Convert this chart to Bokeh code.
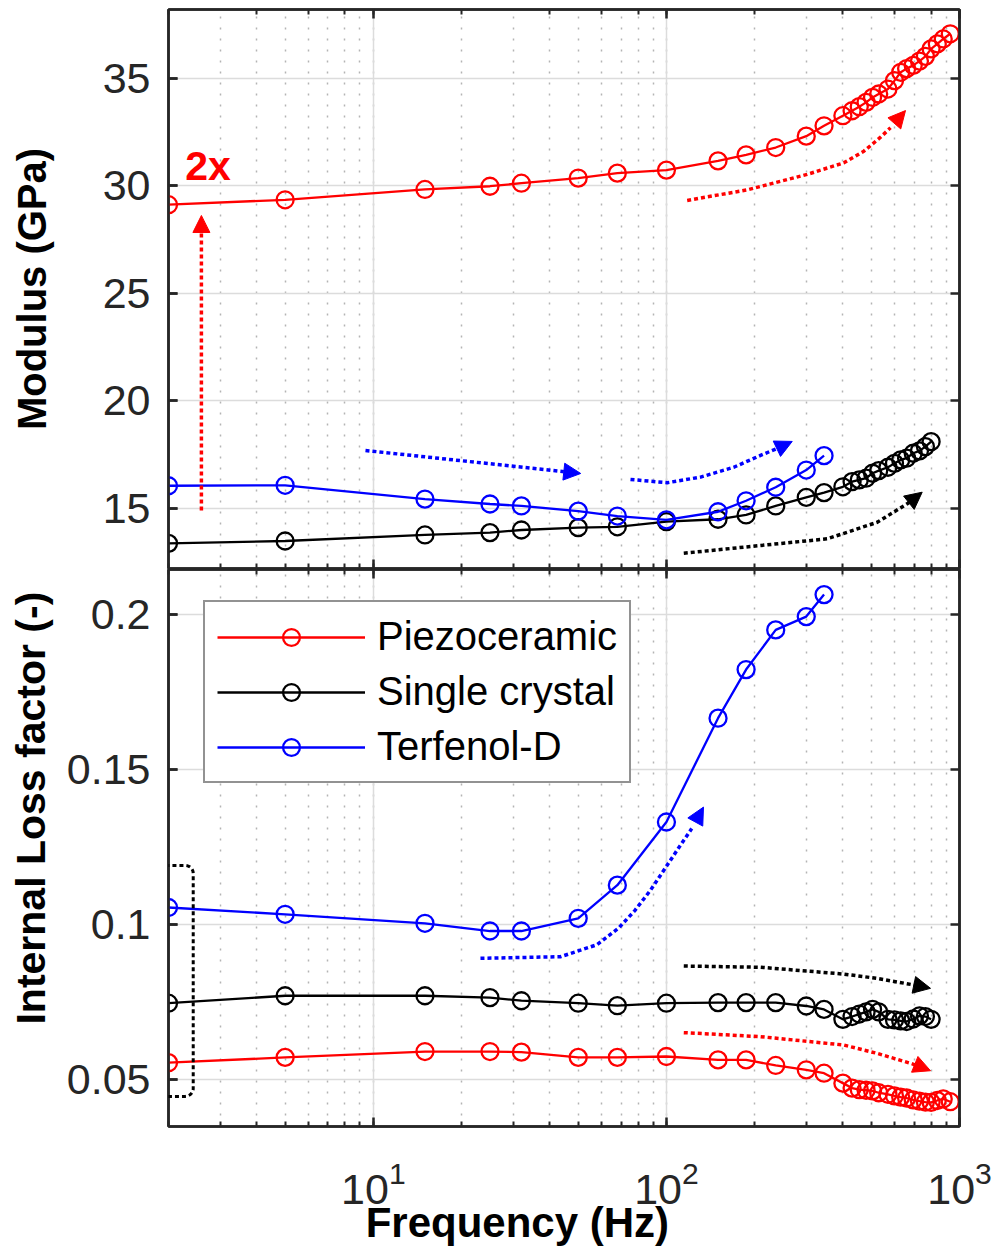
from bokeh.plotting import figure
from bokeh.models import (Range1d, LogAxis, LinearAxis, LogTicker, FixedTicker, Label, Arrow,
                          NormalHead, Legend, LegendItem, CustomJSTickFormatter)
from bokeh.layouts import column
from bokeh.embed import file_html
from bokeh.resources import INLINE

# ---------------- data ----------------
freq_low = [2, 5, 15, 25, 32, 50, 68, 100, 150, 187, 236, 300, 345]
freq_dense = [400, 430, 455, 480, 505, 530, 570, 600, 630, 660, 695, 730, 765, 800, 840, 880, 930]

freq_piezo = freq_low + freq_dense
freq_crystal = freq_low + freq_dense[:14]
freq_terfenol = freq_low

mod_piezo = [29.12, 29.35, 29.83, 29.98, 30.12, 30.36, 30.59, 30.73, 31.16, 31.44, 31.78, 32.31, 32.79,
             33.26, 33.49, 33.68, 33.88, 34.11, 34.27, 34.50, 34.89, 35.28, 35.45, 35.60, 35.80, 36.02,
             36.37, 36.60, 36.83, 37.07]
mod_crystal = [13.37, 13.48, 13.76, 13.87, 13.99, 14.10, 14.14, 14.38, 14.49, 14.69, 15.11, 15.51, 15.73,
               16.00, 16.24, 16.32, 16.40, 16.63, 16.75, 16.91, 17.09, 17.25, 17.33, 17.56, 17.67, 17.87, 18.10]
mod_terfenol = [16.05, 16.07, 15.43, 15.20, 15.11, 14.87, 14.64, 14.46, 14.84, 15.35, 15.98, 16.78, 17.45]

loss_piezo = [0.0554, 0.0571, 0.0590, 0.0590, 0.0588, 0.0571, 0.0571, 0.0574, 0.0563, 0.0563, 0.0545,
              0.0531, 0.0520,
              0.0488, 0.0472, 0.0467, 0.0465, 0.0463, 0.0457, 0.0452, 0.0447, 0.0443, 0.0440, 0.0434,
              0.0430, 0.0427, 0.0426, 0.0432, 0.0437, 0.0428]
loss_crystal = [0.0746, 0.0770, 0.0770, 0.0764, 0.0754, 0.0746, 0.0738, 0.0746, 0.0748, 0.0748, 0.0748,
                0.0737, 0.0726,
                0.0694, 0.0703, 0.0711, 0.0718, 0.0726, 0.0718, 0.0694, 0.0692, 0.0689, 0.0687, 0.0695,
                0.0705, 0.0703, 0.0694]
loss_terfenol = [0.1055, 0.1033, 0.1004, 0.0979, 0.0979, 0.1020, 0.1127, 0.1331, 0.1666, 0.1823, 0.1951,
                 0.1994, 0.2065]

series_names = ["Piezoceramic", "Single crystal", "Terfenol-D"]
series_colors = ["#ff0000", "#000000", "#0000ff"]

mod_ticks = [15, 20, 25, 30, 35]
loss_ticks = [0.05, 0.1, 0.15, 0.2]

# annotation paths (data coordinates)
red_vert = dict(x_start=2.59, y_start=14.9, x_end=2.59, y_end=28.62)
blue_top_straight = dict(x_start=9.4, y_start=17.69, x_end=51.0, y_end=16.62)
red_top_f = [117.7, 188.6, 302.2, 403.0, 471.7, 537.7, 581.6]
red_top_v = [29.32, 29.81, 30.53, 31.07, 31.61, 32.26, 32.70]
red_top_tip = (654.4, 33.50)
blue_top_f = [75.4, 100.6, 130.7, 169.8, 209.4, 245.0]
blue_top_v = [16.34, 16.19, 16.45, 16.91, 17.46, 17.85]
blue_top_tip = (268.7, 18.11)
black_top_f = [114.6, 209.4, 353.8, 523.9, 663.0, 715.0]
black_top_v = [12.91, 13.27, 13.58, 14.35, 15.21, 15.55]
black_top_tip = (746.0, 15.75)
blue_bot_f = [23.2, 43.5, 58.0, 68.6, 78.0, 88.3, 108.8, 122.0]
blue_bot_v = [0.0891, 0.0896, 0.0935, 0.0988, 0.1045, 0.1111, 0.1240, 0.1310]
blue_bot_tip = (133.8, 0.1379)
black_bot_f = [114.6, 209.4, 403.0, 523.9, 698.6, 760.0]
black_bot_v = [0.0866, 0.0862, 0.0840, 0.0826, 0.0805, 0.0798]
black_bot_tip = (796.3, 0.0794)
red_bot_f = [114.6, 209.4, 403.0, 523.9, 680.5, 750.0]
red_bot_v = [0.0651, 0.0638, 0.0611, 0.0584, 0.0552, 0.0538]
red_bot_tip = (796.3, 0.0528)
box_center = (2.053, 0.0818)

# ---------------- style helpers ----------------
FONT = "Liberation Sans"
AX = "#262626"


def style_axis(ax, labels=True, minor=True):
    ax.axis_line_color = AX
    ax.axis_line_width = 2.5
    ax.major_tick_line_color = AX
    ax.major_tick_line_width = 2.5
    ax.major_tick_in = 9
    ax.major_tick_out = 0
    if minor:
        ax.minor_tick_line_color = AX
        ax.minor_tick_line_width = 2
        ax.minor_tick_in = 5
        ax.minor_tick_out = 0
    else:
        ax.minor_tick_line_color = None
    ax.major_label_text_font = FONT
    ax.major_label_text_color = AX
    if labels:
        ax.major_label_text_font_size = "43px"
    else:
        ax.formatter = CustomJSTickFormatter(code="return ''")
        ax.major_label_text_font_size = "1px"
        ax.major_label_standoff = 0


def left_ticks(p, ticks):
    # inward tick marks along the left edge (x = lowest frequency)
    ax = LinearAxis(ticker=FixedTicker(ticks=ticks), fixed_location=2)
    style_axis(ax, labels=False, minor=False)
    ax.axis_line_color = None
    ax.major_tick_in = 0
    ax.major_tick_out = 9
    p.add_layout(ax, "right")


def style_grid(p):
    p.xgrid.grid_line_color = "#dcdcdc"
    p.xgrid.grid_line_width = 1.5
    p.xgrid.minor_grid_line_color = "#b4b4b4"
    p.xgrid.minor_grid_line_width = 1.5
    p.xgrid.minor_grid_line_dash = "2 9"
    p.ygrid.grid_line_color = "#dcdcdc"
    p.ygrid.grid_line_width = 1.5
    p.outline_line_color = AX
    p.outline_line_width = 2.5


def make_fig(yr, frame_h, mb_top, mb_bottom):
    p = figure(x_axis_type="log", x_range=xr, y_range=yr, frame_width=791, frame_height=frame_h,
               min_border_left=168, min_border_right=40, min_border_top=mb_top,
               min_border_bottom=mb_bottom, output_backend="svg", toolbar_location=None)
    p.background_fill_color = "white"
    p.border_fill_color = "white"
    return p


def curve_arrow(p, fs, vs, tip, color):
    p.line(fs, vs, line_color=color, line_width=3.5, line_dash="4 3")
    p.add_layout(Arrow(end=NormalHead(size=17, fill_color=color, line_color=color, line_width=1),
                       x_start=fs[-1], y_start=vs[-1], x_end=tip[0], y_end=tip[1],
                       line_alpha=0, line_width=0))


xr = Range1d(2, 1000)

# ---------------- top panel ----------------
top = make_fig(Range1d(12.2, 38.2), 559, 9, 1)
style_axis(top.xaxis[0], labels=False)
top.yaxis[0].ticker = FixedTicker(ticks=mod_ticks)
style_axis(top.yaxis[0], labels=True, minor=False)
top.yaxis[0].axis_label = "Modulus (GPa)"
top.yaxis[0].axis_label_text_font = FONT
top.yaxis[0].axis_label_text_font_size = "40px"
top.yaxis[0].axis_label_text_font_style = "bold"
top.yaxis[0].axis_label_text_color = "black"
top.yaxis[0].major_label_standoff = 18
top.yaxis[0].axis_label_standoff = 46
ax_t = LogAxis(ticker=LogTicker())
style_axis(ax_t, labels=False)
top.add_layout(ax_t, "above")
ax_r = LinearAxis(ticker=FixedTicker(ticks=mod_ticks))
style_axis(ax_r, labels=False, minor=False)
top.add_layout(ax_r, "right")
left_ticks(top, mod_ticks)
style_grid(top)

mods = [mod_piezo, mod_crystal, mod_terfenol]
freqs = [freq_piezo, freq_crystal, freq_terfenol]
for f, m, c in zip(freqs, mods, series_colors):
    top.line(f, m, line_color=c, line_width=2.3)
    top.scatter(f, m, marker="circle", size=17, fill_alpha=0, line_color=c, line_width=2.3)

top.add_layout(Label(x=2.28, y=29.86, text="2x", text_font=FONT, text_font_size="41px",
                     text_font_style="bold", text_color="#ff0000"))
top.add_layout(Arrow(end=NormalHead(size=17, fill_color="#ff0000", line_color="#ff0000", line_width=1),
                     line_color="#ff0000", line_width=3.5, line_dash="4 3", **red_vert))
top.add_layout(Arrow(end=NormalHead(size=17, fill_color="#0000ff", line_color="#0000ff", line_width=1),
                     line_color="#0000ff", line_width=3.5, line_dash="4 3", **blue_top_straight))
curve_arrow(top, red_top_f, red_top_v, red_top_tip, "#ff0000")
curve_arrow(top, blue_top_f, blue_top_v, blue_top_tip, "#0000ff")
curve_arrow(top, black_top_f, black_top_v, black_top_tip, "#000000")

# ---------------- bottom panel ----------------
bot = make_fig(Range1d(0.0348, 0.2146), 557, 0, 110)
xa = bot.xaxis[0]
style_axis(xa, labels=True)
xa.major_label_standoff = 34
xa.axis_label = "Frequency (Hz)" + "\u00a0" * 8
xa.axis_label_text_font = FONT
xa.axis_label_text_font_size = "42px"
xa.axis_label_text_font_style = "bold"
xa.axis_label_text_color = "black"
xa.axis_label_standoff = -8
ya = bot.yaxis[0]
ya.ticker = FixedTicker(ticks=loss_ticks)
ya.formatter = CustomJSTickFormatter(code="return tick.toString()")
style_axis(ya, labels=True, minor=False)
ya.axis_label = "\u00a0" * 7 + "Internal Loss factor (-)"
ya.axis_label_text_font = FONT
ya.axis_label_text_font_size = "41px"
ya.axis_label_text_font_style = "bold"
ya.axis_label_text_color = "black"
ya.major_label_standoff = 18
ya.axis_label_standoff = 10
ax_t2 = LogAxis(ticker=LogTicker())
style_axis(ax_t2, labels=False)
bot.add_layout(ax_t2, "above")
ax_r2 = LinearAxis(ticker=FixedTicker(ticks=loss_ticks))
style_axis(ax_r2, labels=False, minor=False)
bot.add_layout(ax_r2, "right")
left_ticks(bot, loss_ticks)
style_grid(bot)

# dotted rounded box around the lowest-frequency points
bot.add_layout(Label(x=box_center[0], y=box_center[1], text="\u00a0", text_font_size="10px",
                     text_align="center", text_baseline="middle",
                     padding=dict(left=20, right=20, top=110, bottom=110),
                     border_line_color="black", border_line_width=3, border_line_dash="4 3",
                     border_radius=8))

curve_arrow(bot, blue_bot_f, blue_bot_v, blue_bot_tip, "#0000ff")
curve_arrow(bot, black_bot_f, black_bot_v, black_bot_tip, "#000000")
curve_arrow(bot, red_bot_f, red_bot_v, red_bot_tip, "#ff0000")

losses = [loss_piezo, loss_crystal, loss_terfenol]
items = []
for f, l, c, name in zip(freqs, losses, series_colors, series_names):
    lr = bot.line(f, l, line_color=c, line_width=2.3)
    sr = bot.scatter(f, l, marker="circle", size=17, fill_alpha=0, line_color=c, line_width=2.3)
    items.append(LegendItem(label=name, renderers=[lr, sr]))

legend = Legend(items=items, location=(35, 343), border_line_color=AX, border_line_width=2,
                background_fill_color="white", background_fill_alpha=1,
                label_text_font=FONT, label_text_font_size="40px", label_text_color="black",
                glyph_width=148, glyph_height=42, label_height=42, label_standoff=12,
                padding=12, spacing=10, margin=0)
bot.add_layout(legend)

layout = column(top, bot, spacing=0)
open("out.html", "w").write(file_html(layout, INLINE))
